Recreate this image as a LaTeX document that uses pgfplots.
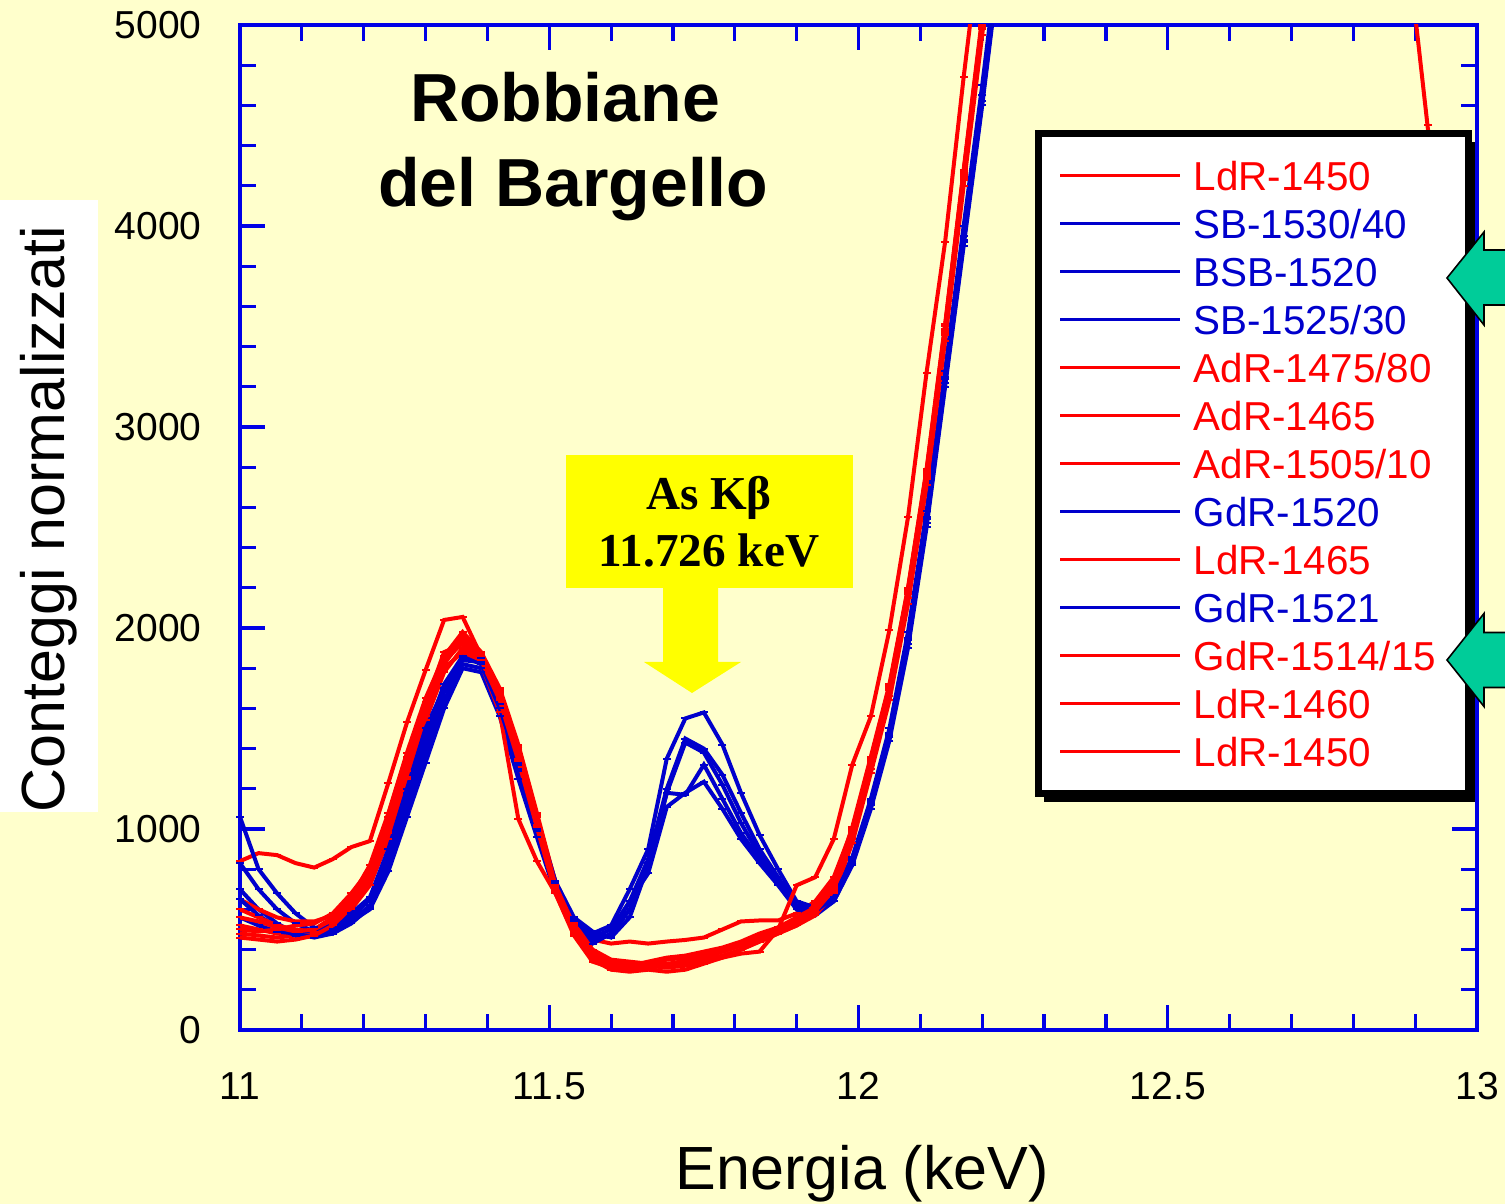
\documentclass[border=0pt]{standalone}
\usepackage{pgfplots}
\pgfplotsset{compat=1.18}
\usepackage{pgfplotstable}
\usepackage{fontspec}
\setmainfont{Liberation Sans}
\newfontfamily\annofont{Liberation Serif}
\definecolor{bgy}{RGB}{255,255,204}
\definecolor{axblue}{RGB}{0,0,230}
\definecolor{lblue}{RGB}{0,0,204}
\definecolor{lred}{RGB}{255,0,0}
\definecolor{annoyellow}{RGB}{255,255,0}
\definecolor{arrowgreen}{RGB}{0,204,153}
\newcommand{\tickfont}{\fontsize{19.5}{20}\selectfont}
\newcommand{\labfont}{\fontsize{30.5}{32}\selectfont}
\newcommand{\legfont}{\fontsize{20.2}{22}\selectfont}
\newcommand{\legent}[2]{\textcolor{#1}{\makebox[127pt][l]{#2}}}

\pgfplotstableread{
x b1 b2 b3 b4 b5
11.00 700 1060 830 650 560
11.03 600 800 700 570 520
11.06 530 680 600 510 490
11.09 480 580 530 470 480
11.12 460 510 490 470 500
11.15 480 480 480 500 520
11.18 540 540 530 560 580
11.21 620 600 610 650 660
11.24 840 790 820 870 900
11.27 1150 1060 1100 1180 1200
11.30 1420 1330 1380 1460 1500
11.33 1680 1600 1640 1720 1700
11.36 1840 1800 1820 1860 1850
11.39 1830 1780 1800 1820 1850
11.42 1620 1560 1600 1600 1640
11.45 1300 1250 1290 1320 1330
11.48 1000 960 990 1020 1040
11.51 720 680 700 730 740
11.54 540 520 530 550 560
11.57 480 430 450 460 490
11.60 520 480 470 500 460
11.63 700 640 600 640 560
11.66 900 850 830 780 820
11.69 1350 1200 1180 1110 1180
11.72 1550 1450 1170 1180 1430
11.75 1580 1400 1320 1235 1380
11.78 1420 1270 1150 1100 1220
11.81 1180 1080 980 950 1030
11.84 970 900 850 830 870
11.87 800 760 730 720 740
11.90 640 620 600 600 610
11.93 610 600 580 570 590
11.96 680 660 640 640 660
11.99 860 840 820 830 850
12.02 1150 1130 1100 1120 1140
12.05 1500 1480 1440 1460 1470
12.08 1980 1950 1900 1920 1940
12.11 2580 2550 2500 2520 2540
12.14 3280 3250 3200 3220 3240
12.17 4000 3950 3900 3920 3930
12.20 4700 4650 4600 4620 4620
12.23 5450 5400 5350 5380 5380
}\bluetab

\pgfplotstableread{
x r1 r2 r3 r4 r5 r6 r7 r8
11.00 840 650 520 480 600 560 460 500
11.03 880 600 500 470 560 540 450 490
11.06 870 560 480 460 520 510 440 500
11.09 830 540 470 470 500 490 450 520
11.12 808 540 480 500 490 500 470 530
11.15 850 570 530 560 540 550 520 580
11.18 910 640 620 660 600 640 610 680
11.21 940 760 760 820 720 790 750 800
11.24 1230 980 1020 1080 950 1040 990 1060
11.27 1530 1260 1330 1380 1250 1340 1290 1360
11.30 1790 1560 1620 1650 1540 1610 1580 1630
11.33 2040 1820 1880 1860 1780 1830 1800 1850
11.36 2055 1950 1920 1980 1900 1930 1880 1960
11.39 1860 1870 1820 1880 1850 1860 1840 1870
11.42 1660 1680 1580 1700 1650 1670 1640 1690
11.45 1380 1400 1050 1420 1350 1380 1340 1410
11.48 1060 1060 840 1080 1020 1040 1010 1070
11.51 740 700 680 730 690 710 680 720
11.54 550 500 480 530 490 500 470 520
11.57 450 380 360 400 350 380 340 390
11.60 430 340 310 350 300 320 310 330
11.63 440 330 300 340 290 310 320 320
11.66 430 320 310 330 300 320 340 310
11.69 440 330 320 350 290 310 360 320
11.72 448 340 330 360 300 320 370 350
11.75 460 350 360 380 330 340 390 370
11.78 500 370 390 400 360 360 410 390
11.81 540 400 420 430 400 380 440 420
11.84 545 440 460 470 440 390 480 460
11.87 545 480 500 510 480 500 510 500
11.90 580 520 540 550 520 720 560 540
11.93 640 580 600 620 570 760 610 590
11.96 760 690 710 730 680 950 720 700
11.99 1000 950 980 1010 930 1320 990 970
12.02 1320 1300 1340 1360 1280 1560 1350 1330
12.05 1690 1660 1700 1720 1640 1990 1710 1690
12.08 2180 2150 2190 2200 2120 2550 2190 2170
12.11 2760 2740 2780 2790 2710 3270 2770 2750
12.14 3480 3460 3500 3510 3430 3920 3490 3470
12.17 4250 4230 4270 4280 4200 4740 4260 4240
12.20 5000 4980 5020 5040 4950 5500 5010 4990
12.23 5800 5780 5800 5820 5750 6200 5800 5790
12.88 nan nan nan nan nan nan nan 5800
12.90 nan nan nan nan nan nan nan 5050
12.92 nan nan nan nan nan nan nan 4500
12.95 nan nan nan nan nan nan nan 3700
}\redtab

\begin{document}
\begin{tikzpicture}
\path[use as bounding box] (-120pt,-87pt) rectangle (632.5pt,515pt);
\fill[bgy] (-120pt,-87pt) rectangle (632.5pt,515pt);
\fill[white] (-120pt,109pt) rectangle (-71pt,415pt);
\begin{axis}[
  scale only axis, width=618.5pt, height=502.5pt,
  xmin=11, xmax=13, ymin=0, ymax=5000,
  xtick={11,11.5,12,12.5,13}, ytick={0,1000,2000,3000,4000,5000},
  minor x tick num=4, minor y tick num=4,
  scaled ticks=false,
  tick align=inside,
  major tick length=12.5pt, minor tick length=8pt,
  axis line style={draw=axblue, line width=1.8pt},
  tick style={draw=axblue, line width=1.6pt},
  /pgf/number format/assume math mode=true,
  /pgf/number format/1000 sep={},
  ticklabel style={font=\tickfont, text=black},
  xticklabel style={anchor=north, inner sep=0pt, yshift=-21pt},
  yticklabel style={anchor=east, inner sep=0pt, xshift=-19pt},
  xlabel={Energia (keV)},
  ylabel={Conteggi normalizzati},
  label style={font=\labfont},
  xlabel style={at={(axis description cs:0.503,-0.159)}, anchor=base},
  ylabel style={at={(axis description cs:-0.1415,0.5085)}, anchor=base},
  legend image code/.code={\draw[#1,line width=1.3pt] (0pt,0pt) -- (60pt,0pt);},
  legend style={at={(axis description cs:0.6427,0.8955)}, anchor=north west,
    draw=black, line width=3.5pt, fill=white,
    inner xsep=10.25pt, inner ysep=9pt, column sep=6pt, row sep=0pt,
    nodes={inner sep=0pt, minimum height=24pt, text height=14.5pt, text depth=0pt, font=\legfont},
    cells={anchor=west}},
  every axis plot/.append style={line width=2pt, mark=-, mark size=2pt, mark options={solid, line width=1pt}},
]
\addplot[lred]  table[x=x,y=r1]{\redtab};  \addlegendentry{\legent{lred}{LdR-1450}}
\addplot[lblue] table[x=x,y=b1]{\bluetab}; \addlegendentry{\legent{lblue}{SB-1530/40}}
\addplot[lblue] table[x=x,y=b2]{\bluetab}; \addlegendentry{\legent{lblue}{BSB-1520}}
\addplot[lblue] table[x=x,y=b3]{\bluetab}; \addlegendentry{\legent{lblue}{SB-1525/30}}
\addplot[lred]  table[x=x,y=r2]{\redtab};  \addlegendentry{\legent{lred}{AdR-1475/80}}
\addplot[lred]  table[x=x,y=r3]{\redtab};  \addlegendentry{\legent{lred}{AdR-1465}}
\addplot[lred]  table[x=x,y=r4]{\redtab};  \addlegendentry{\legent{lred}{AdR-1505/10}}
\addplot[lblue] table[x=x,y=b4]{\bluetab}; \addlegendentry{\legent{lblue}{GdR-1520}}
\addplot[lred]  table[x=x,y=r5]{\redtab};  \addlegendentry{\legent{lred}{LdR-1465}}
\addplot[lblue] table[x=x,y=b5]{\bluetab}; \addlegendentry{\legent{lblue}{GdR-1521}}
\addplot[lred]  table[x=x,y=r6]{\redtab};  \addlegendentry{\legent{lred}{GdR-1514/15}}
\addplot[lred]  table[x=x,y=r7]{\redtab};  \addlegendentry{\legent{lred}{LdR-1460}}
\addplot[lred]  table[x=x,y=r8]{\redtab};  \addlegendentry{\legent{lred}{LdR-1450}}
\end{axis}
% legend shadow (right and bottom strips)
\fill[black] (612.5pt,114pt) rectangle (617.5pt,444pt);
\fill[black] (402pt,114pt) rectangle (617.5pt,119pt);
% title
\node[anchor=base, font=\bfseries\fontsize{34}{40}\selectfont] at (162.5pt,454pt) {Robbiane};
\node[anchor=base, font=\bfseries\fontsize{34}{40}\selectfont] at (166.5pt,411.5pt) {del Bargello};
% yellow annotation
\fill[annoyellow] (163pt,221pt) rectangle (306.5pt,287.5pt);
\fill[annoyellow] (211.5pt,221.5pt) -- (239pt,221.5pt) -- (239pt,184pt) -- (250.5pt,184pt) -- (226pt,168.5pt) -- (202pt,184pt) -- (211.5pt,184pt) -- cycle;
\node[anchor=base, font=\annofont\bfseries\fontsize{23.6}{28}\selectfont] at (234.5pt,260pt) {As Kβ};
\node[anchor=base, font=\annofont\bfseries\fontsize{23.6}{28}\selectfont] at (234.5pt,231.5pt) {11.726 keV};
% green arrows
\filldraw[fill=arrowgreen, draw=black, line width=0.8pt] (603.5pt,376pt) -- (622pt,399pt) -- (622pt,390pt) -- (660pt,390pt) -- (660pt,362.5pt) -- (622pt,362.5pt) -- (622pt,352.5pt) -- cycle;
\filldraw[fill=arrowgreen, draw=black, line width=0.8pt] (603.5pt,185pt) -- (622pt,208.25pt) -- (622pt,198.75pt) -- (660pt,198.75pt) -- (660pt,171.25pt) -- (622pt,171.25pt) -- (622pt,161.75pt) -- cycle;
\end{tikzpicture}
\end{document}
